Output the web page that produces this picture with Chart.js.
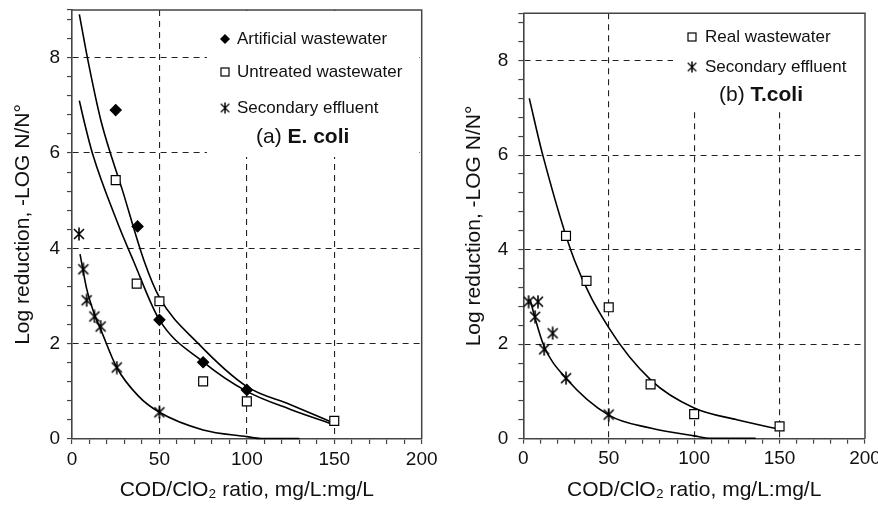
<!DOCTYPE html>
<html><head><meta charset="utf-8">
<script src="https://cdn.jsdelivr.net/npm/chart.js@4.4.1/dist/chart.umd.min.js"></script>
<style>
html,body{margin:0;padding:0;background:#fff;}
#wrap{position:relative;width:878px;height:505px;overflow:hidden;background:#fff;}
#c1{position:absolute;left:0;top:0;}
#c2{position:absolute;left:440px;top:0;}
</style></head><body>
<div id="wrap"><canvas id="c1" width="440" height="505"></canvas><canvas id="c2" width="438" height="505"></canvas></div>
<script>
// ---------- (a) E. coli ----------
const ECOLI_ART_X = [25, 37.5, 50, 75, 100];
const ECOLI_ART_Y = [6.9, 4.46, 2.5, 1.61, 1.03];
const ECOLI_UNT_X = [25, 37, 50, 75, 100, 150];
const ECOLI_UNT_Y = [5.43, 3.26, 2.89, 1.21, 0.79, 0.38];
const ECOLI_SEC_X = [4, 6.5, 8.4, 12.8, 16.4, 25.6, 50];
const ECOLI_SEC_Y = [4.3, 3.56, 2.91, 2.57, 2.36, 1.5, 0.56];
// fitted curves
const ECOLI_FIT1_X = [4.2, 8.8, 16.6, 29, 41.2, 50, 72.3, 100, 125, 150];
const ECOLI_FIT1_Y = [8.91, 8.0, 6.67, 5.2, 3.74, 2.97, 2.0, 1.1, 0.72, 0.33];
const ECOLI_FIT2_X = [4.2, 6.9, 11.8, 25.6, 35.1, 50, 75, 100, 125, 150];
const ECOLI_FIT2_Y = [7.1, 6.67, 5.98, 4.58, 3.74, 2.5, 1.62, 1.0, 0.62, 0.3];
const ECOLI_FIT3_X = [4.6, 6.5, 8.4, 12.8, 16.4, 25.6, 38, 50, 75, 100, 108, 130];
const ECOLI_FIT3_Y = [3.88, 3.5, 3.15, 2.62, 2.3, 1.5, 0.9, 0.56, 0.19, 0.05, 0.01, 0.01];

// ---------- (b) T.coli ----------
const TCOLI_REAL_X = [25, 37, 50, 74.5, 100, 150];
const TCOLI_REAL_Y = [4.29, 3.34, 2.78, 1.15, 0.52, 0.26];
const TCOLI_SEC_X = [3.1, 6.9, 8.6, 12.2, 17.2, 25, 50];
const TCOLI_SEC_Y = [2.9, 2.58, 2.9, 1.89, 2.23, 1.28, 0.51];
const TCOLI_FIT1_X = [3.5, 11.4, 29.9, 50, 75, 100, 125, 150];
const TCOLI_FIT1_Y = [7.2, 6.0, 3.78, 2.35, 1.23, 0.65, 0.4, 0.2];
const TCOLI_FIT2_X = [4, 6.9, 12.2, 25, 50, 75, 100, 110, 136];
const TCOLI_FIT2_Y = [2.95, 2.55, 1.95, 1.28, 0.5, 0.22, 0.06, 0.01, 0.01];

// ---------- axes ----------
const X_MIN = 0, X_MAX = 200, X_STEP = 10, X_LABEL_EVERY = 50;
const Y_MIN = 0, Y_MAX = 9, Y_STEP = 0.4, Y_LABEL_EVERY = 2;
const X_TITLE = 'COD/ClO\u2082 ratio, mg/L:mg/L';
const Y_TITLE = 'Log reduction, -LOG N/N\u00B0';

const FONT = '"Liberation Sans", Arial, Helvetica, sans-serif';
const INK = '#111';

function pts(xs, ys){ return xs.map((x,i)=>({x:x, y:ys[i]})); }

function makeStar(){
  const c = document.createElement('canvas'); c.width = 14; c.height = 14;
  const g = c.getContext('2d'); g.strokeStyle = '#000'; g.lineWidth = 1.6;
  g.beginPath();
  g.moveTo(7, 0.5); g.lineTo(7, 13.5);
  g.moveTo(2, 2); g.lineTo(12, 12);
  g.moveTo(12, 2); g.lineTo(2, 12);
  g.stroke();
  return c;
}
const STAR = makeStar();

function isMult(v, m){ const r = v / m; return Math.abs(r - Math.round(r)) < 1e-6; }

const legendPlugin = {
  id: 'boxLegend',
  beforeDatasetsDraw(chart, args, o){
    const ctx = chart.ctx, a = chart.chartArea;
    ctx.save();
    ctx.fillStyle = '#fff';
    ctx.fillRect(o.box[0], o.box[1], o.box[2], o.box[3]);
    // frame top & right
    ctx.strokeStyle = '#444'; ctx.lineWidth = 1.5;
    ctx.beginPath(); ctx.moveTo(a.left, a.top); ctx.lineTo(a.right, a.top); ctx.lineTo(a.right, a.bottom); ctx.stroke();
    ctx.font = '17px ' + FONT; ctx.fillStyle = INK; ctx.textBaseline = 'middle'; ctx.textAlign = 'left';
    o.items.forEach(it => {
      const mx = it.mx, my = it.y;
      if (it.m === 'diamond'){
        ctx.fillStyle = '#000'; ctx.beginPath();
        ctx.moveTo(mx-5, my); ctx.lineTo(mx, my-5); ctx.lineTo(mx+5, my); ctx.lineTo(mx, my+5); ctx.closePath(); ctx.fill();
      } else if (it.m === 'square'){
        ctx.strokeStyle = '#000'; ctx.lineWidth = 1.2; ctx.strokeRect(mx-4, my-4, 8, 8);
      } else if (it.m === 'star'){
        ctx.drawImage(STAR, mx-6, my-6, 12, 12);
      }
      ctx.fillStyle = INK;
      ctx.fillText(it.text, it.tx, my);
    });
    ctx.font = '21px ' + FONT;
    ctx.fillText(o.title[0], o.title[2], o.title[3]);
    const w = ctx.measureText(o.title[0]).width;
    ctx.font = 'bold 21px ' + FONT;
    ctx.fillText(o.title[1], o.title[2] + w, o.title[3]);
    ctx.restore();
  }
};

function makeChart(id, cfg, datasets){
  return new Chart(document.getElementById(id), {
    type: 'scatter',
    data: { datasets: datasets },
    plugins: [legendPlugin],
    options: {
      responsive: false, animation: false, events: [],
      layout: { padding: { left: 0, top: cfg.top, right: cfg.right, bottom: 0 } },
      plugins: { legend: { display: false }, tooltip: { enabled: false }, boxLegend: cfg.legend },
      scales: {
        x: {
          type: 'linear', min: X_MIN, max: X_MAX, bounds: 'data',
          afterFit: s => { s.height = cfg.xh; s.paddingLeft = 0; s.paddingRight = 0; },
          ticks: { stepSize: X_STEP, autoSkip: false, maxRotation: 0, includeBounds: false, padding: 4, color: INK,
            font: { family: FONT, size: 19 }, callback: v => isMult(v, X_LABEL_EVERY) ? String(v) : '' },
          grid: { color: c => (c.tick && isMult(c.tick.value, X_LABEL_EVERY) && c.tick.value > X_MIN && c.tick.value < X_MAX) ? '#222' : 'rgba(0,0,0,0)',
            lineWidth: 1.1, tickLength: 5, tickColor: '#444', tickWidth: 1.2 },
          border: { display: true, color: '#444', width: 1.6, dash: [6, 5] },
          title: { display: true, text: X_TITLE, color: INK, font: { family: FONT, size: 21 }, padding: { top: 0, bottom: 2 } }
        },
        y: {
          type: 'linear', min: Y_MIN, max: Y_MAX, bounds: 'data',
          afterFit: s => { s.width = cfg.yw; s.paddingTop = 0; s.paddingBottom = 0; },
          ticks: { stepSize: Y_STEP, autoSkip: false, includeBounds: false, padding: cfg.ypad, color: INK,
            font: { family: FONT, size: 19 }, callback: v => isMult(v, Y_LABEL_EVERY) ? String(Math.round(v)) : '' },
          grid: { color: c => (c.tick && isMult(c.tick.value, Y_LABEL_EVERY) && c.tick.value > Y_MIN) ? '#222' : 'rgba(0,0,0,0)',
            lineWidth: 1.1, tickLength: 5, tickColor: '#444', tickWidth: 1.2 },
          border: { display: true, color: '#444', width: 1.6, dash: [6, 5] },
          title: { display: true, text: Y_TITLE, color: INK, font: { family: FONT, size: 21 }, padding: { top: cfg.ytp, bottom: 0 } }
        }
      }
    }
  });
}

function markerSet(xs, ys, kind){
  const base = { data: pts(xs, ys), showLine: false, borderColor: '#000', borderWidth: 1.2 };
  if (kind === 'diamond') return Object.assign(base, { pointStyle: 'rectRot', pointRadius: 5.5, backgroundColor: '#000' });
  if (kind === 'square') return Object.assign(base, { pointStyle: 'rect', pointRadius: 6.3, backgroundColor: '#fff' });
  return Object.assign(base, { pointStyle: STAR, pointRadius: 7, backgroundColor: '#000' });
}
function fitSet(xs, ys){
  return { data: pts(xs, ys), showLine: true, pointRadius: 0, borderColor: '#000', borderWidth: 1.6,
    cubicInterpolationMode: 'monotone', fill: false, clip: { left: 0, top: 0, right: 0, bottom: 3 } };
}

makeChart('c1', {
  top: 10, right: 18.3, xh: 66, yw: 72, ypad: 7, ytp: 11,
  legend: {
    box: [207, 11, 212, 146],
    items: [
      { m: 'diamond', mx: 225, tx: 237, y: 39, text: 'Artificial wastewater' },
      { m: 'square', mx: 225, tx: 237, y: 72, text: 'Untreated wastewater' },
      { m: 'star', mx: 225, tx: 237, y: 108, text: 'Secondary effluent' }
    ],
    title: ['(a) ', 'E. coli', 256, 137]
  }
}, [
  markerSet(ECOLI_ART_X, ECOLI_ART_Y, 'diamond'),
  markerSet(ECOLI_UNT_X, ECOLI_UNT_Y, 'square'),
  markerSet(ECOLI_SEC_X, ECOLI_SEC_Y, 'star'),
  fitSet(ECOLI_FIT1_X, ECOLI_FIT1_Y),
  fitSet(ECOLI_FIT2_X, ECOLI_FIT2_Y),
  fitSet(ECOLI_FIT3_X, ECOLI_FIT3_Y)
]);

makeChart('c2', {
  top: 13.3, right: 13, xh: 66.3, yw: 83.3, ypad: 10, ytp: 22,
  legend: {
    box: [233, 14, 189, 95],
    items: [
      { m: 'square', mx: 252, tx: 265, y: 37, text: 'Real wastewater' },
      { m: 'star', mx: 252, tx: 265, y: 67, text: 'Secondary effluent' }
    ],
    title: ['(b) ', 'T.coli', 279, 95]
  }
}, [
  markerSet(TCOLI_REAL_X, TCOLI_REAL_Y, 'square'),
  markerSet(TCOLI_SEC_X, TCOLI_SEC_Y, 'star'),
  fitSet(TCOLI_FIT1_X, TCOLI_FIT1_Y),
  fitSet(TCOLI_FIT2_X, TCOLI_FIT2_Y)
]);
</script>
</body></html>
